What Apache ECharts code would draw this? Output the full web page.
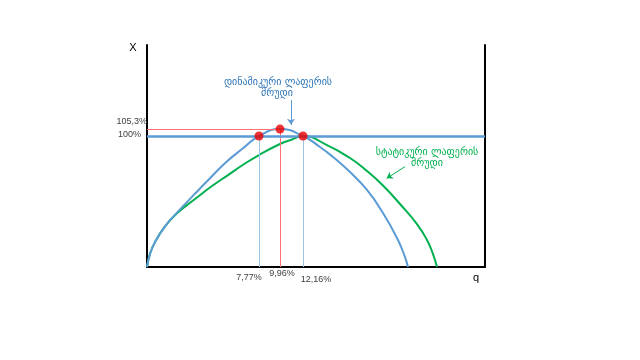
<!DOCTYPE html>
<html><head><meta charset="utf-8">
<script src="https://cdn.jsdelivr.net/npm/echarts@6/dist/echarts.min.js"></script>
<style>html,body{margin:0;padding:0;background:#fff}#c{width:640px;height:360px}</style>
</head><body><div id="c"></div>
<script>
// Dynamic Laffer curve (blue)
const blueQ = [0, 3, 8, 18, 30, 48, 63, 79, 96, 112, 133, 156, 173, 186, 203, 220, 236, 250, 258, 261];
const blueV = [0, 10, 19, 31, 41.5, 56, 67.8, 80, 90.6, 100, 105.3, 100, 91.6, 84, 72.5, 58.8, 41.2, 22.1, 7.6, 0];
// Static Laffer curve (green)
const greenQ = [0, 3, 8, 18, 30, 48, 65, 81, 98, 112, 133, 145, 156, 180, 203, 220, 236, 253, 270, 280, 286, 290];
const greenV = [0, 10, 19, 31, 41, 51.9, 61.8, 70.2, 79, 85.5, 93.9, 97.3, 100, 93.1, 83.2, 73.3, 62.2, 48.1, 32.8, 20.6, 9.9, 0];
// key points
const keyQ = [112, 133, 156];
const keyV = [100, 105.3, 100];
const qLabels = ['7,77%', '9,96%', '12,16%'];
const yTicks = [100, 105.3];
const yLabels = ['100%', '105,3%'];
const qMax = 338;
const vMax = 169.5;
const dynText = ['დინამიკური ლაფერის', 'მრუდი'];
const statText = ['სტატიკური ლაფერის', 'მრუდი'];

const chart = echarts.init(document.getElementById('c'), null, {renderer: 'canvas'});
const zip = (a, b) => a.map((x, i) => [x, b[i]]);
const BLUE = '#5b9bd5', GREEN = '#00b050', RED = '#ff6f73', LBLUE = '#9dc3e6';

const option = {
  backgroundColor: '#ffffff',
  animation: false,
  grid: {left: 147, right: 155, top: 45, bottom: 93},
  xAxis: {type: 'value', min: 0, max: qMax, axisLine: {show: true, onZero: false, lineStyle: {color: '#000', width: 2}},
    axisTick: {show: false}, axisLabel: {show: false}, splitLine: {show: false}},
  yAxis: [
    {type: 'value', min: 0, max: vMax, axisLine: {show: true, lineStyle: {color: '#000', width: 2}},
      axisTick: {show: false}, axisLabel: {show: false}, splitLine: {show: false}},
    {type: 'value', min: 0, max: vMax, position: 'right', axisLine: {show: true, lineStyle: {color: '#000', width: 2}},
      axisTick: {show: false}, axisLabel: {show: false}, splitLine: {show: false}}
  ],
  series: [
    {type: 'line', data: [], silent: true,
      markLine: {silent: true, symbol: ['none', 'none'], label: {show: false}, animation: false,
        data: [
          [{coord: [0, yTicks[1]], lineStyle: {color: RED, width: 1, type: 'solid'}}, {coord: [keyQ[1], yTicks[1]]}],
          [{coord: [keyQ[0], 0], lineStyle: {color: LBLUE, width: 1, type: 'solid'}}, {coord: [keyQ[0], keyV[0]]}],
          [{coord: [keyQ[1], 0], lineStyle: {color: RED, width: 1, type: 'solid'}}, {coord: [keyQ[1], keyV[1]]}],
          [{coord: [keyQ[2], 0], lineStyle: {color: LBLUE, width: 1, type: 'solid'}}, {coord: [keyQ[2], keyV[2]]}],
          [{coord: [0, yTicks[0]], lineStyle: {color: BLUE, width: 2.5, type: 'solid'}}, {coord: [qMax, yTicks[0]]}]
        ]}},
    {type: 'line', data: [], silent: true,
      markLine: {silent: true, symbol: ['none', 'arrow'], symbolSize: 6, label: {show: false}, animation: false,
        data: [
          [{coord: [144, 127.5], lineStyle: {color: BLUE, width: 1, type: 'solid'}, itemStyle: {color: BLUE}}, {coord: [144, 108.6]}],
          [{coord: [258, 76.6], lineStyle: {color: GREEN, width: 1, type: 'solid'}, itemStyle: {color: GREEN}}, {coord: [239.7, 67.7]}]
        ]}},
    {type: 'line', data: zip(greenQ, greenV), smooth: 0.5, symbol: 'none', lineStyle: {color: GREEN, width: 2}, z: 3},
    {type: 'line', data: zip(blueQ, blueV), smooth: 0.5, symbol: 'none', lineStyle: {color: BLUE, width: 2}, z: 3},
    {type: 'scatter', data: zip(keyQ, keyV), symbolSize: 9, itemStyle: {color: '#e80000'}, z: 5}
  ]
};
chart.setOption(option);

const px = (q, v) => chart.convertToPixel({gridIndex: 0}, [q, v]);
const num = '9px "Liberation Sans", Arial, sans-serif';
const geo = '10px "DejaVu Sans", sans-serif';
const g = [];
const txt = (text, x, y, align, font, fill) => g.push({type: 'text', silent: true, z: 10,
  style: {text, x, y, align, verticalAlign: 'middle', font, fill}});
// y tick labels
let p = px(0, yTicks[0]); txt(yLabels[0], p[0] - 6, p[1] - 2, 'right', num, '#404040');
p = px(0, yTicks[1]); txt(yLabels[1], p[0], p[1] - 8, 'right', num, '#404040');
// q labels
const qOff = [[-10, 11], [2, 7], [13, 13]];
keyQ.forEach((q, i) => { const pp = px(q, 0); txt(qLabels[i], pp[0] + qOff[i][0], pp[1] + qOff[i][1], 'center', num, '#404040'); });
// axis names
p = px(0, vMax); txt('X', p[0] - 14, p[1] + 3, 'center', '11px "Liberation Sans", Arial, sans-serif', '#000');
p = px(qMax, 0); txt('q', p[0] - 9, p[1] + 11, 'center', '11px "Liberation Sans", Arial, sans-serif', '#000');
// annotations
txt(dynText[0], 278, 82, 'center', geo, '#2e75b6');
txt(dynText[1], 277, 93, 'center', geo, '#2e75b6');
txt(statText[0], 427, 152, 'center', geo, GREEN);
txt(statText[1], 427, 163, 'center', geo, GREEN);
chart.setOption({graphic: g});
</script>
</body></html>
